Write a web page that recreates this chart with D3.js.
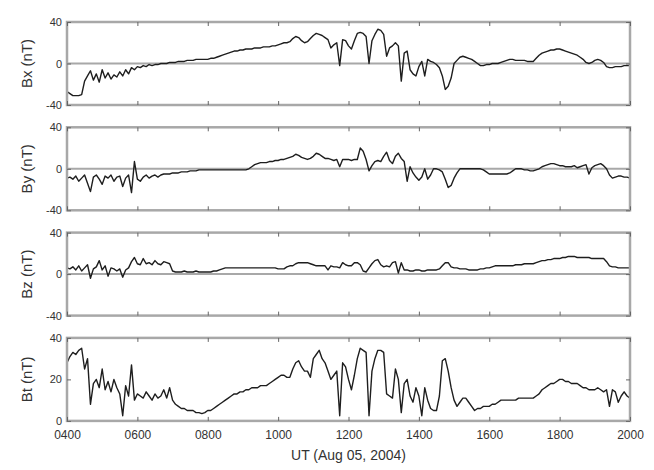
<!DOCTYPE html>
<html>
<head>
<meta charset="utf-8">
<script src="https://cdn.jsdelivr.net/npm/d3@7"></script>
<style>
  html, body { margin: 0; padding: 0; background: #fff; }
  svg { display: block; }
  text { font-family: "Liberation Sans", Arial, sans-serif; fill: #333; }
</style>
</head>
<body>
<svg id="chart" width="654" height="470"></svg>
<script>
// Time axis: hours UT, 5-minute samples from 04:00 to 20:00
const startHour = 4, endHour = 20, stepMinutes = 5;
const xTickHours = [4, 6, 8, 10, 12, 14, 16, 18, 20];
const xTickLabels = ["0400", "0600", "0800", "1000", "1200", "1400", "1600", "1800", "2000"];
const panelNames = ["Bx (nT)", "By (nT)", "Bz (nT)", "Bt (nT)"];
const yDomains = [[-40, 40], [-40, 40], [-40, 40], [0, 40]];
const yTickValues = [[-40, 0, 40], [-40, 0, 40], [-40, 0, 40], [0, 20, 40]];
const zeroLines = [true, true, true, false];

const bx = [
  -27,-29,-31,-31,-31,-30,-17,-12,-7,-16,-10,-18,
  -6,-14,-9,-15,-11,-13,-8,-12,-6,-10,-4,-6,
  -3,-4,-2,-3,-1,-2,-1,-1,0,0,0,1,
  1,1,2,2,2,3,3,3,4,4,4,4,
  4,5,5,6,7,8,9,10,11,12,12,13,
  13,14,14,14,15,15,15,16,16,16,17,17,
  18,19,20,20,21,24,26,25,22,20,21,24,
  27,29,28,27,25,23,15,18,20,-2,23,22,
  17,14,22,29,30,29,26,0,22,28,33,32,
  28,7,15,17,20,17,-17,10,12,-6,-10,-12,
  -3,2,-12,4,2,1,-1,-4,-12,-25,-22,-14,
  0,3,6,7,6,5,4,2,0,-2,-2,-1,
  -1,0,0,0,1,2,3,4,4,3,3,3,
  3,2,2,2,5,8,10,11,12,13,13,14,
  14,13,12,11,10,9,8,6,4,1,0,1,
  3,4,3,1,-3,-4,-4,-3,-3,-3,-2,-2,
  -2
];
const by = [
  -9,-8,-10,-7,-12,-9,-6,-14,-22,-8,-6,-10,
  -15,-7,-9,-6,-12,-8,-7,-17,-9,-6,-23,7,
  -10,-12,-8,-6,-9,-7,-6,-8,-6,-5,-5,-5,
  -4,-4,-4,-3,-3,-3,-2,-2,-2,-1,-1,-1,
  -1,-1,-1,-1,-1,-1,-1,-1,-1,-1,-1,-1,
  -1,-1,0,2,4,5,6,6,6,7,7,8,
  8,9,9,10,11,12,14,13,11,10,9,10,
  12,15,14,12,10,10,9,8,9,2,9,9,
  9,8,9,9,20,17,9,-2,3,7,8,7,
  12,16,8,5,12,15,10,7,-12,2,-4,-8,
  -11,-8,0,-10,-6,0,0,-1,-3,-10,-18,-16,
  -9,-4,0,0,0,0,0,0,0,0,-1,-3,
  -5,-5,-5,-5,-5,-5,-5,-4,-2,0,0,0,
  -1,-1,-2,-2,-1,0,2,3,4,5,5,4,
  3,3,2,2,2,3,1,2,3,4,-5,1,
  3,4,5,3,0,-6,-9,-8,-7,-7,-8,-8,
  -9
];
const bz = [
  6,5,7,4,8,3,6,9,-4,5,7,13,
  4,8,-2,6,5,3,5,-3,4,6,12,16,
  10,9,15,10,11,9,13,10,9,12,11,10,
  3,2,2,2,3,2,2,2,3,2,2,2,
  2,2,3,3,4,5,6,6,6,6,6,6,
  6,6,6,6,6,6,6,6,6,6,6,6,
  5,5,5,7,8,8,10,11,11,11,11,10,
  9,8,8,8,8,4,8,7,7,6,11,9,
  8,8,11,11,9,3,2,6,10,13,14,9,
  7,8,7,11,12,1,11,4,4,3,3,4,
  4,3,3,4,4,4,4,5,8,11,11,7,
  6,6,5,5,5,4,4,4,4,5,5,6,
  6,7,8,8,8,8,8,8,8,9,9,9,
  10,10,10,10,11,12,13,13,14,14,15,15,
  15,16,16,17,17,17,16,16,16,16,16,15,
  15,15,15,15,12,8,7,7,6,6,6,6,
  6
];
const bt = [
  28,31,33,32,34,35,25,30,8,18,20,16,
  25,15,19,14,20,16,13,2.5,17,12,27,10,
  13,12,11,14,12,10,13,11,12,15,11,16,
  10,8,7,6,6,5,5,5,4,4,3.5,4,
  5,5,6,7,8,9,10,11,12,13,13,14,
  14,15,15,16,16,16,17,17,17,18,19,20,
  21,22,22,21,21,25,28,29,26,24,24,21,
  30,32,34,30,28,24,20,22,24,2.5,28,26,
  20,15,22,30,35,34,33,2.5,24,30,34,34,
  33,13,12,11,25,20,4,18,20,12,9,16,
  12,2.5,16,10,6,5,5,12,29,30,24,16,
  10,7,9,11,11,9,7,5,6,6,7,7,
  7,8,8,9,10,10,10,10,10,10,11,11,
  11,11,11,11,12,13,15,16,17,18,18,19,
  20,20,19,19,18,18,18,17,16,16,15,15,
  15,16,15,14,15,7,15,14,9,12,14,12,
  11
];
const seriesList = [bx, by, bz, bt];

const svg = d3.select("#chart");
const left = 67, right = 630;
const panelTop0 = 22, panelStep = 105.3, panelH = 83;

const x = d3.scaleLinear().domain([startHour, endHour]).range([left, right]);
const frameColor = "#a8a8a8";

seriesList.forEach((vals, k) => {
  const top = panelTop0 + k * panelStep;
  const bottom = top + panelH;
  const y = d3.scaleLinear().domain(yDomains[k]).range([bottom, top]);
  const g = svg.append("g");

  // zero line
  if (zeroLines[k]) {
    g.append("line")
      .attr("x1", left).attr("x2", right)
      .attr("y1", y(0)).attr("y2", y(0))
      .attr("stroke", frameColor).attr("stroke-width", 2);
  }

  // data line
  const line = d3.line()
    .x((d, i) => x(startHour + i * stepMinutes / 60))
    .y(d => y(d));
  g.append("path")
    .datum(vals)
    .attr("d", line)
    .attr("fill", "none")
    .attr("stroke", "#1e1e1e")
    .attr("stroke-width", 1.4)
    .attr("stroke-linejoin", "round");

  // frame
  g.append("rect")
    .attr("x", left).attr("y", top)
    .attr("width", right - left).attr("height", panelH)
    .attr("fill", "none")
    .attr("stroke", frameColor).attr("stroke-width", 2.5);

  // x ticks (inward, top and bottom)
  const xTop = d3.axisTop(x).tickValues(xTickHours).tickSize(-4).tickFormat("");
  const xBot = d3.axisBottom(x).tickValues(xTickHours).tickSize(-4)
      .tickFormat((d, i) => k === 3 ? xTickLabels[i] : "");
  const gt = g.append("g").attr("transform", `translate(0,${top})`).call(xTop);
  const gb = g.append("g").attr("transform", `translate(0,${bottom})`).call(xBot);
  [gt, gb].forEach(a => {
    a.select(".domain").remove();
    a.selectAll(".tick line").attr("stroke", "#666").attr("stroke-width", 1);
  });
  gb.selectAll(".tick text")
    .attr("dy", "1.25em")
    .attr("font-size", 12)
    .attr("fill", "#333");

  // y ticks
  const yL = d3.axisLeft(y).tickValues(yTickValues[k]).tickSize(-4).tickPadding(5)
      .tickFormat(d3.format("d"));
  const yR = d3.axisRight(y).tickValues(yTickValues[k]).tickSize(-4).tickFormat("");
  const gl = g.append("g").attr("transform", `translate(${left},0)`).call(yL);
  const gr = g.append("g").attr("transform", `translate(${right},0)`).call(yR);
  [gl, gr].forEach(a => {
    a.select(".domain").remove();
    a.selectAll(".tick line").attr("stroke", "#666").attr("stroke-width", 1);
  });
  gl.selectAll(".tick text")
    .attr("font-size", 11)
    .attr("fill", "#333")
    .text(d => d < 0 ? "-" + Math.abs(d) : d);

  // y label
  g.append("text")
    .attr("transform", `translate(32,${(top + bottom) / 2}) rotate(-90)`)
    .attr("text-anchor", "middle")
    .attr("font-size", 15)
    .attr("fill", "#333")
    .text(panelNames[k]);
});

// x-axis title
svg.append("text")
  .attr("x", (left + right) / 2)
  .attr("y", 460)
  .attr("text-anchor", "middle")
  .attr("font-size", 14)
  .attr("fill", "#333")
  .text("UT (Aug 05, 2004)");
</script>
</body>
</html>
